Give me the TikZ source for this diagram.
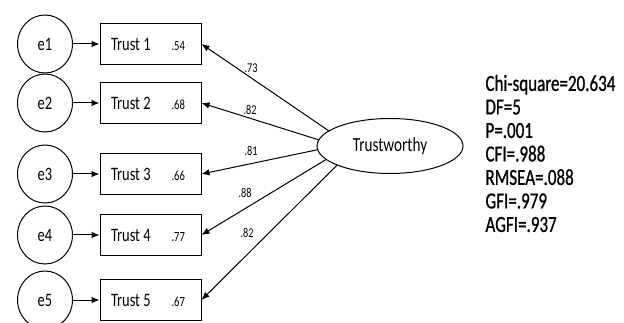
\documentclass[tikz,border=0pt]{standalone}
\usepackage{fontspec}
\setmainfont{Carlito}[FakeStretch=0.76]
\newfontfamily\statfont{Carlito}[FakeStretch=0.74,FakeBold=0.8]
\usetikzlibrary{shapes.geometric,arrows.meta}
\newcommand{\valfont}{\fontsize{14}{14}\selectfont}
\newcommand{\trustlabel}[2]{\makebox[79pt]{Trust #1\hfill{\valfont #2}\hspace*{5pt}}}
\begin{document}
\begin{tikzpicture}[x=1pt,y=-1pt,line width=1pt,>={Latex[length=8pt,width=6.5pt]},
    errnode/.style={draw,ellipse,minimum width=55pt,minimum height=58pt,inner sep=0pt,font=\fontsize{19}{19}\selectfont},
    itembox/.style={draw,rectangle,inner xsep=11pt,minimum height=41pt,font=\fontsize{19}{19}\selectfont},
    factor/.style={draw,ellipse,minimum width=146pt,minimum height=55pt,inner sep=0pt,font=\fontsize{20}{20}\selectfont},
    loading/.style={font=\fontsize{13.5}{13.5}\selectfont,inner sep=0pt}]
    \useasboundingbox (0,0) rectangle (624,323);

    % error terms
    \node[errnode] (e1) at (45,44) {e1};
    \node[errnode] (e2) at (45,103) {e2};
    \node[errnode] (e3) at (45,174) {e3};
    \node[errnode] (e4) at (45,235) {e4};
    \node[errnode] (e5) at (45,300) {e5};

    % observed items
    \node[itembox] (t1) at (150.5,44) {\trustlabel{1}{.54}};
    \node[itembox] (t2) at (150.5,103) {\trustlabel{2}{.68}};
    \node[itembox] (t3) at (150.5,174) {\trustlabel{3}{.66}};
    \node[itembox] (t4) at (150.5,235) {\trustlabel{4}{.77}};
    \node[itembox] (t5) at (150.5,300) {\trustlabel{5}{.67}};

    % latent factor
    \node[factor] (tw) at (390,146) {Trustworthy};

    % errors to items
    \draw[->] (e1) -- (t1);
    \draw[->] (e2) -- (t2);
    \draw[->] (e3) -- (t3);
    \draw[->] (e4) -- (t4);
    \draw[->] (e5) -- (t5);

    % factor loadings
    \draw[->] (tw.166) -- (t1.east);
    \draw[->] (tw.175) -- (t2.east);
    \draw[->] (tw.183) -- (t3.east);
    \draw[->] (tw.192) -- (t4.east);
    \draw[->] (tw.200) -- (t5.east);

    \node[loading] (l1) at (251,68) {.73};
    \node[loading] (l2) at (250,110) {.82};
    \node[loading] (l3) at (251,151) {.81};
    \node[loading] (l4) at (245,193) {.88};
    \node[loading] (l5) at (247,233) {.82};

    % fit indices
    \node[anchor=west,inner sep=0pt,align=left,font=\statfont\fontsize{23}{23.5}\selectfont] (fit) at (485,153.5)
        {Chi-square=20.634\\DF=5\\P=.001\\CFI=.988\\RMSEA=.088\\GFI=.979\\AGFI=.937};
\end{tikzpicture}
\end{document}
